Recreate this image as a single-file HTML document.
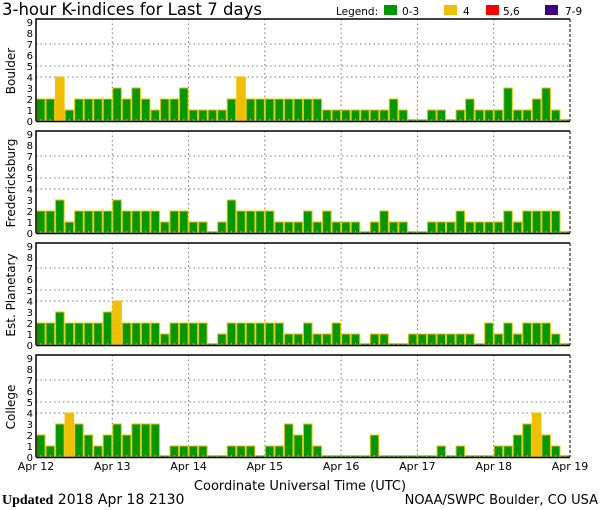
<!DOCTYPE html>
<html><head><meta charset="utf-8"><style>
body{margin:0;background:#fff;width:600px;height:510px;overflow:hidden}
svg{display:block;font-family:"DejaVu Sans","Liberation Sans",sans-serif}
</style></head><body>
<svg id="c" width="600" height="510">
<text x="2" y="15" font-size="16.5">3-hour K-indices for Last 7 days</text>
<g font-size="10.5">
<text x="336" y="15">Legend:</text>
<rect x="384" y="5" width="13" height="10" fill="#009900"/>
<text x="402" y="15">0-3</text>
<rect x="444" y="5" width="13" height="10" fill="#f0c000"/>
<text x="463" y="15">4</text>
<rect x="486" y="5" width="13" height="10" fill="#ff0000"/>
<text x="503" y="15">5,6</text>
<rect x="545" y="5" width="13" height="10" fill="#400080"/>
<text x="565" y="15">7-9</text>
</g>
<text x="300" y="490" font-size="13" text-anchor="middle">Coordinate Universal Time (UTC)</text>
<text x="2" y="504" font-size="14"><tspan font-family="Liberation Serif,serif" font-weight="bold" font-size="14">Updated</tspan> 2018 Apr 18 2130</text>
<text x="598" y="504" font-size="13" text-anchor="end">NOAA/SWPC Boulder, CO USA</text>
</svg>
<script>
const stations = ["Boulder","Fredericksburg","Est. Planetary","College"];
const dayLabels = ["Apr 12","Apr 13","Apr 14","Apr 15","Apr 16","Apr 17","Apr 18","Apr 19"];
const yTicks = [0,1,2,3,4,5,6,7,8,9];
const boulder = [2,2,4,1,2,2,2,2, 3,2,3,2,1,2,2,3, 1,1,1,1,2,4,2,2, 2,2,2,2,2,2,1,1, 1,1,1,1,1,2,1,0, 0,1,1,0,1,2,1,1, 1,3,1,1,2,3,1,0];
const fredericksburg = [2,2,3,1,2,2,2,2, 3,2,2,2,2,1,2,2, 1,1,0,1,3,2,2,2, 2,1,1,1,2,1,2,1, 1,1,0,1,2,1,1,0, 0,1,1,1,2,1,1,1, 1,2,1,2,2,2,2,0];
const planetary = [2,2,3,2,2,2,2,3, 4,2,2,2,2,1,2,2, 2,2,0,1,2,2,2,2, 2,2,1,1,2,1,1,2, 1,1,0,1,1,0,0,1, 1,1,1,1,1,1,0,2, 1,2,1,2,2,2,1,0];
const college = [2,1,3,4,3,2,1,2, 3,2,3,3,3,0,1,1, 1,1,0,0,1,1,1,0, 1,1,3,2,3,1,0,0, 0,0,0,2,0,0,0,0, 0,0,1,0,1,0,0,0, 1,1,2,3,4,2,1,0];
const series = [boulder,fredericksburg,planetary,college];

const svg=document.getElementById('c');
const NS='http://www.w3.org/2000/svg';
const X0=36,X1=570,UNIT=11;
const nBars=56;
const xs=i=>X0+i*(X1-X0)/nBars;
const xd=d=>X0+d*(X1-X0)/7;
function mk(t,a,p){const e=document.createElementNS(NS,t);for(const k in a)e.setAttribute(k,a[k]);(p||svg).appendChild(e);return e;}
function color(v){return v>=7?'#400080':v>=5?'#ff0000':v>=4?'#f0c000':'#009900';}

stations.forEach((name,p)=>{
  const base=121+p*112;
  const ys=v=>base-v*UNIT;
  const top=base-102;
  const g=mk('g',{});
  
  
  [4,5,7].forEach(v=>{const l=mk('line',{x1:X0,x2:X1,y1:ys(v),y2:ys(v),stroke:'#777','stroke-dasharray':'1.5,3'},g);
    });
  for(let d=1;d<7;d++){const l=mk('line',{x1:xd(d),x2:xd(d),y1:top,y2:base,stroke:'#777','stroke-dasharray':'1.5,3'},g);
    }
  series[p].forEach((v,i)=>{
    const h=Math.max(v*UNIT,1.5);
    const r=mk('rect',{x:xs(i)+0.5,y:base-h,width:(X1-X0)/nBars-1,height:h,fill:color(v),stroke:'#f0c000','stroke-width':1},g);
    
    const t=mk('rect',{x:xs(i)+4.3,y:base-2,width:1,height:2,fill:'#f0c000'},g);
    
  });
  const f1=mk('path',{d:`M${X0},${base}V${top}H${X1}`,fill:'none',stroke:'#000','stroke-width':1.5},g);
  
  const f2=mk('line',{x1:X1,x2:X1,y1:top,y2:base,stroke:'#000','stroke-dasharray':'3,2'},g);
  
  const f3=mk('line',{x1:X0,x2:X1,y1:base+0.5,y2:base+0.5,stroke:'#000','stroke-width':1.5},g);
  
  yTicks.forEach(v=>{const t=mk('text',{x:33,y:ys(v)+4,'font-size':10,'text-anchor':'end'},g);t.textContent=v;
    });
  const yl=mk('text',{x:0,y:0,'font-size':12,'text-anchor':'middle',transform:`translate(15,${base-50}) rotate(-90)`},g);
  yl.textContent=name;
  
  
});
dayLabels.forEach((s,d)=>{const t=mk('text',{x:xd(d),y:470,'font-size':11,'text-anchor':'middle'});t.textContent=s;
  });
</script>
</body></html>
